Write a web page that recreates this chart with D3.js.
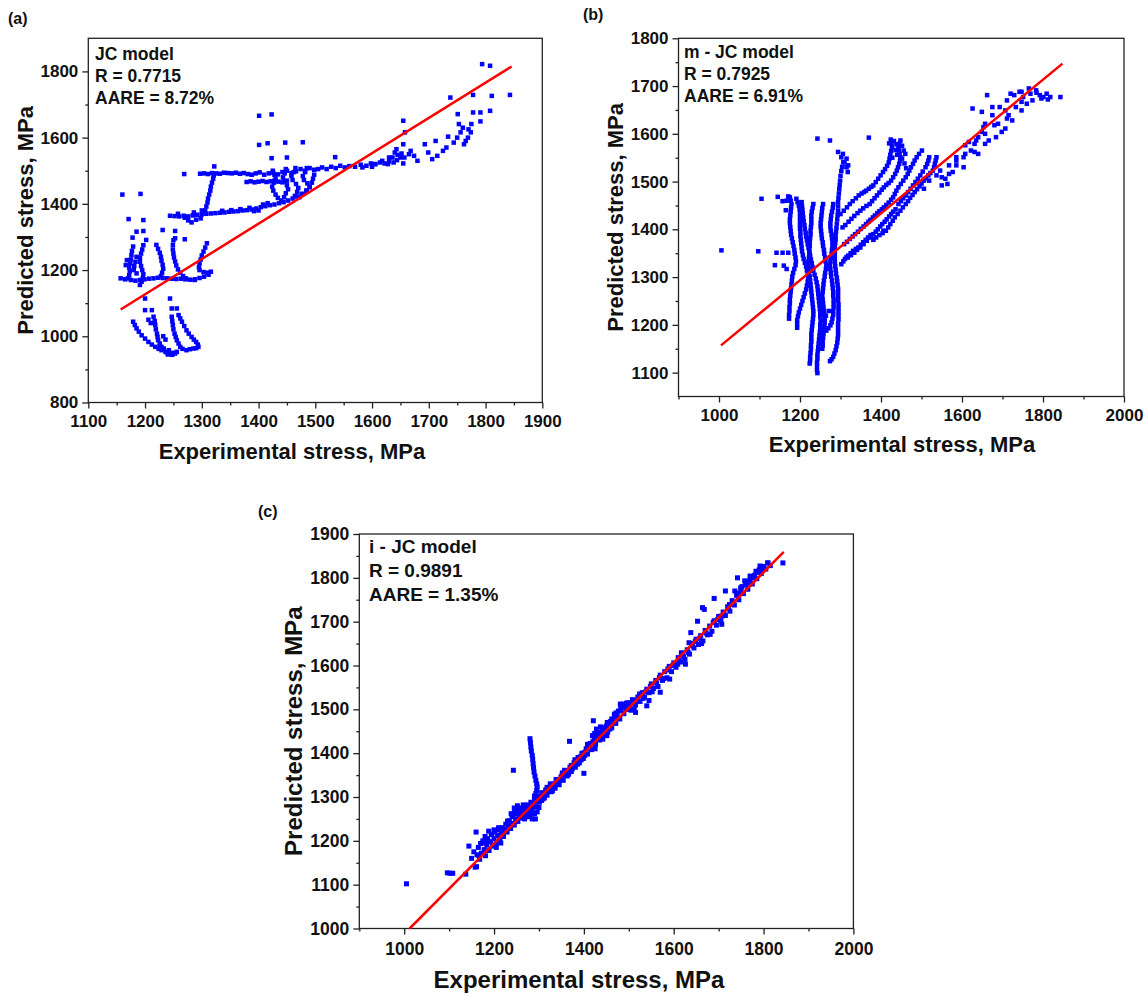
<!DOCTYPE html>
<html>
<head>
<meta charset="utf-8">
<script src="https://cdn.jsdelivr.net/npm/d3@7/dist/d3.min.js"></script>
<style>
  body { margin: 0; background: #fff; }
  svg text { font-family: Arial, "Liberation Sans", sans-serif; font-weight: bold; fill: #111; }
</style>
</head>
<body>
<svg id="chart" width="1148" height="996"></svg>
<script>

// ---------- (a) JC model ----------
var jcXTicks = [1100, 1200, 1300, 1400, 1500, 1600, 1700, 1800, 1900]
var jcXMinor = [1150, 1250, 1350, 1450, 1550, 1650, 1750, 1850]
var jcYTicks = [800, 1000, 1200, 1400, 1600, 1800]
var jcYMinor = [900, 1100, 1300, 1500, 1700]
var jcNotes = ['JC model', 'R = 0.7715', 'AARE = 8.72%']
var jcFit = [[1157, 1081], [1846, 1815]]
var jcData = [
  // isolated points
  [1401,1666],[1423,1670],[1401,1578],[1416,1583],[1447,1585],[1478,1586],[1423,1538],[1450,1540],[1535,1541],
  [1269,1490],[1322,1513],[1160,1428],[1192,1430],[1171,1354],[1197,1351],[1185,1316],[1197,1318],[1231,1321],
  [1253,1318],[1178,1298],[1202,1291],[1253,1296],[1270,1293],[1157,1175],
  // upper horizontal band
  [1297,1491],[1304,1492],[1311,1490],[1318,1493],[1325,1492],[1332,1491],[1339,1494],[1346,1493],[1353,1492],
  [1360,1494],[1367,1491],[1374,1493],[1381,1490],[1388,1488],[1395,1492],[1402,1495],[1410,1488],[1418,1492],
  [1426,1494],[1434,1489],[1442,1496],[1450,1500],[1458,1493],[1466,1498],[1474,1505],[1482,1500],[1490,1508],[1498,1503],
  [1379,1466],[1386,1468],[1393,1465],[1400,1467],[1407,1469],[1414,1466],[1421,1468],[1428,1470],[1435,1467],[1442,1465],[1450,1470],
  // curls
  [1425,1500],[1428,1488],[1430,1476],[1427,1464],[1424,1452],[1426,1440],[1430,1428],[1434,1418],[1440,1410],
  [1448,1505],[1446,1492],[1443,1480],[1445,1468],[1450,1456],[1452,1444],[1448,1432],[1445,1420],
  [1465,1508],[1462,1496],[1458,1484],[1460,1472],[1466,1460],[1470,1448],[1468,1436],[1464,1424],
  [1485,1508],[1482,1496],[1478,1484],[1480,1472],[1486,1462],[1490,1450],[1485,1440],[1478,1430],[1472,1420],
  // steep link
  [1306,1380],[1308,1392],[1310,1404],[1311,1416],[1313,1428],[1315,1440],[1316,1452],[1318,1464],[1320,1476],[1321,1486],
  // lower band
  [1244,1364],[1252,1363],[1260,1362],[1268,1364],[1276,1362],[1284,1365],[1292,1367],[1300,1368],[1308,1370],
  [1316,1371],[1324,1372],[1332,1373],[1340,1374],[1348,1376],[1356,1377],[1364,1378],[1372,1380],[1380,1381],
  [1388,1383],[1396,1386],[1404,1390],[1412,1393],[1420,1396],[1428,1398],[1436,1402],[1444,1405],[1452,1410],
  [1460,1416],[1468,1422],[1476,1430],[1484,1440],[1490,1452],[1494,1464],[1496,1476],[1498,1488],
  [1276,1350],[1282,1344],[1290,1352],[1270,1358],[1298,1356],[1258,1370],[1286,1374],[1300,1380],
  [1400,1380],[1408,1398],[1416,1402],[1392,1378],[1336,1379],[1352,1381],[1368,1384],[1384,1388],
  // right trail
  [1505,1505],[1512,1510],[1520,1505],[1528,1512],[1536,1508],[1544,1515],[1552,1510],[1560,1514],[1570,1512],
  [1580,1518],[1590,1515],[1598,1522],[1606,1520],[1614,1525],[1622,1522],[1630,1528],[1638,1525],[1644,1532],[1650,1540],
  [1583,1510],[1600,1512],[1618,1530],[1628,1520],[1636,1540],[1645,1548],[1652,1552],[1655,1522],
  [1655,1651],[1658,1616],[1655,1580],[1643,1565],[1668,1560],[1674,1545],[1680,1530],[1693,1580],[1699,1555],
  [1706,1535],[1712,1590],[1715,1545],[1725,1560],[1731,1570],[1734,1603],[1744,1585],[1750,1600],[1756,1616],
  [1753,1641],[1751,1671],[1738,1721],[1762,1580],[1769,1600],[1774,1616],[1775,1641],[1778,1676],[1778,1729],
  [1791,1676],[1791,1649],[1808,1681],[1794,1822],[1808,1817],[1811,1726],[1843,1729],[1657,1540],[1665,1550],
  [1605,1520],[1630,1540],[1640,1555],[1765,1590],[1770,1625],[1760,1630],
  // left loops
  [1179,1271],[1177,1258],[1176,1245],[1175,1232],[1174,1220],[1172,1208],[1173,1196],[1172,1184],[1170,1175],
  [1185,1240],[1183,1225],[1181,1212],[1168,1230],[1166,1215],[1180,1200],[1185,1190],
  [1197,1275],[1195,1262],[1193,1250],[1191,1237],[1191,1225],[1193,1212],[1195,1200],[1197,1188],[1196,1176],[1194,1165],[1191,1155],
  [1220,1276],[1223,1264],[1226,1252],[1228,1240],[1229,1228],[1231,1216],[1232,1204],[1230,1192],[1228,1182],
  [1250,1290],[1249,1276],[1249,1262],[1250,1250],[1251,1238],[1253,1226],[1255,1214],[1258,1202],[1262,1192],[1267,1182],[1272,1175],
  [1309,1281],[1306,1268],[1303,1256],[1300,1244],[1298,1232],[1296,1220],[1295,1208],[1296,1200],[1303,1194],
  [1310,1192],[1316,1195],[1312,1186],[1304,1180],[1296,1176],[1288,1172],
  [1165,1172],[1175,1170],[1183,1168],[1191,1170],[1199,1172],[1207,1174],[1215,1175],[1223,1177],[1231,1176],
  [1239,1175],[1247,1174],[1255,1173],[1263,1174],[1271,1172],[1279,1171],[1287,1170],
  // lower loops
  [1200,1114],[1244,1114],[1200,1079],[1212,1079],[1247,1084],[1256,1084],
  [1179,1044],[1182,1034],[1185,1024],[1189,1014],[1194,1003],[1200,993],[1206,983],[1212,975],[1218,968],
  [1224,962],[1229,958],[1236,953],[1244,948],[1250,950],[1256,953],
  [1215,1059],[1217,1046],[1218,1034],[1219,1021],[1221,1008],[1222,998],[1223,988],[1226,978],[1229,968],[1233,963],
  [1247,1059],[1248,1046],[1249,1034],[1250,1021],[1252,1008],[1254,998],[1256,988],[1259,978],[1262,968],[1266,962],
  [1259,1064],[1262,1054],[1265,1044],[1269,1031],[1273,1018],[1277,1008],[1282,998],[1286,990],[1290,983],
  [1293,975],[1294,968],[1290,964],[1285,963],[1279,961],[1273,958],
  [1238,952],[1242,958],[1226,970],[1210,1040],[1206,1050],[1232,1000],[1236,990],[1240,945],[1248,944],[1253,948]
]

// ---------- (b) m-JC model ----------
var mjcXTicks = [1000, 1200, 1400, 1600, 1800, 2000]
var mjcXMinor = [900, 1100, 1300, 1500, 1700, 1900]
var mjcYTicks = [1100, 1200, 1300, 1400, 1500, 1600, 1700, 1800]
var mjcYMinor = [1150, 1250, 1350, 1450, 1550, 1650, 1750]
var mjcNotes = ['m - JC model', 'R = 0.7925', 'AARE = 6.91%']
var mjcFit = [[1005, 1157], [1848, 1747]]
var mjcData = [
  // isolated points
  [1006,1356],[1097,1354],[1142,1351],[1157,1351],[1171,1351],[1138,1325],[1105,1464],[1145,1468],[1157,1459],
  [1171,1469],[1243,1590],[1274,1586],[1370,1592],[1294,1562],[1160,1324],[1167,1317],[1264,1219],[1271,1229],
  [1165,1440],[1167,1460],
  // steep strands
  [1175,1467],[1177,1460],[1179,1453],[1178,1445],[1177,1437],[1176,1429],[1175,1421],[1175,1413],[1176,1405],
  [1177,1397],[1178,1389],[1180,1381],[1182,1373],[1184,1365],[1186,1357],[1187,1349],[1189,1341],[1190,1333],
  [1189,1325],[1186,1317],[1183,1309],[1181,1301],[1180,1293],[1179,1285],[1178,1277],[1177,1269],[1176,1261],
  [1175,1253],[1175,1245],[1174,1237],[1174,1229],[1173,1221],[1173,1213],
  [1191,1464],[1194,1457],[1197,1450],[1199,1442],[1200,1434],[1200,1426],[1200,1418],[1200,1410],[1200,1402],
  [1201,1394],[1201,1386],[1202,1378],[1203,1370],[1204,1362],[1205,1354],[1207,1346],[1209,1338],[1212,1330],
  [1215,1322],[1217,1314],[1219,1306],[1220,1298],[1219,1290],[1217,1282],[1215,1274],[1212,1266],[1209,1258],
  [1206,1250],[1203,1242],[1200,1234],[1197,1226],[1195,1218],[1193,1210],[1193,1202],[1193,1194],
  [1204,1457],[1205,1449],[1206,1441],[1207,1433],[1208,1425],[1209,1417],[1211,1409],[1212,1401],[1214,1393],
  [1215,1385],[1217,1377],[1219,1369],[1221,1361],[1223,1353],[1225,1345],[1227,1337],[1229,1329],[1231,1321],
  [1233,1313],[1236,1305],[1239,1297],[1241,1289],[1243,1281],[1244,1273],[1245,1265],[1246,1257],[1247,1249],
  [1248,1241],[1249,1233],[1250,1225],[1250,1217],[1251,1209],[1250,1201],[1250,1193],[1249,1185],[1248,1177],
  [1247,1169],[1246,1161],[1245,1153],[1244,1145],[1243,1137],[1243,1129],[1242,1121],[1242,1113],[1242,1105],[1243,1099],
  [1233,1453],[1231,1445],[1229,1437],[1228,1429],[1228,1421],[1228,1413],[1227,1405],[1226,1397],[1226,1389],
  [1225,1381],[1224,1373],[1224,1365],[1223,1357],[1223,1349],[1222,1341],[1221,1333],[1220,1325],[1221,1317],
  [1222,1309],[1224,1301],[1225,1293],[1226,1285],[1227,1277],[1228,1269],[1229,1261],[1230,1253],[1231,1245],
  [1232,1237],[1233,1229],[1233,1221],[1232,1213],[1231,1205],[1230,1197],[1229,1189],[1228,1181],[1228,1173],
  [1228,1165],[1227,1157],[1227,1149],[1226,1141],[1225,1133],[1225,1125],[1224,1119],
  [1257,1453],[1255,1445],[1254,1437],[1253,1429],[1252,1421],[1251,1413],[1251,1405],[1252,1397],[1253,1389],
  [1254,1381],[1256,1373],[1257,1365],[1259,1357],[1260,1349],[1262,1341],[1263,1333],[1265,1325],[1264,1317],
  [1262,1309],[1261,1301],[1259,1293],[1258,1285],[1257,1277],[1256,1269],[1255,1261],[1256,1253],[1257,1245],
  [1258,1237],[1259,1229],[1260,1221],[1261,1213],[1261,1205],[1260,1197],[1259,1189],[1258,1181],[1257,1173],
  [1256,1165],[1256,1157],[1255,1150],
  [1302,1551],[1306,1558],[1310,1540],[1315,1548],[1319,1534],[1315,1530],[1318,1520],
  [1307,1541],[1304,1531],[1302,1522],[1300,1512],[1299,1502],[1298,1493],[1297,1484],[1296,1475],[1295,1466],
  [1294,1457],[1294,1448],[1294,1439],[1293,1430],[1292,1421],[1291,1412],[1290,1403],[1289,1395],[1288,1387],
  [1288,1379],[1287,1371],[1286,1363],[1286,1355],[1286,1347],[1286,1339],[1286,1331],[1287,1323],[1288,1315],
  [1289,1307],[1291,1299],[1292,1291],[1293,1283],[1294,1275],[1294,1267],[1294,1259],[1294,1251],[1295,1243],
  [1295,1235],[1295,1227],[1295,1219],[1295,1211],[1294,1203],[1294,1195],[1294,1187],[1294,1179],[1293,1171],
  [1292,1163],[1290,1155],[1288,1147],[1285,1140],[1282,1133],[1278,1128],[1274,1124],
  [1282,1453],[1281,1445],[1279,1437],[1277,1429],[1276,1421],[1275,1413],[1275,1405],[1276,1397],[1278,1389],
  [1279,1381],[1280,1373],[1280,1365],[1279,1357],[1278,1349],[1276,1341],[1275,1333],[1274,1325],[1275,1317],
  [1276,1309],[1277,1301],[1279,1293],[1280,1285],[1281,1277],[1282,1269],[1282,1261],[1283,1253],[1283,1245],
  [1283,1237],[1282,1229],[1282,1221],[1280,1213],[1278,1205],[1275,1199],[1270,1193],[1265,1188],
  // rising strands
  [1300,1432],[1308,1439],[1316,1446],[1323,1453],[1330,1459],[1338,1465],[1345,1471],[1352,1475],[1358,1478],
  [1363,1481],[1370,1485],[1376,1489],[1381,1492],[1387,1499],[1393,1506],[1399,1513],[1405,1520],[1410,1526],
  [1415,1533],[1419,1540],[1421,1548],[1423,1556],[1425,1564],[1427,1572],[1426,1580],[1424,1588],
  [1305,1404],[1312,1409],[1320,1416],[1327,1422],[1334,1428],[1342,1434],[1349,1439],[1356,1444],[1364,1449],
  [1372,1453],[1378,1459],[1384,1465],[1390,1471],[1396,1477],[1402,1483],[1407,1488],[1413,1493],[1419,1497],
  [1425,1502],[1430,1509],[1435,1516],[1439,1523],[1442,1530],[1445,1537],[1447,1544],[1448,1551],[1446,1558],
  [1444,1565],[1443,1572],[1445,1579],[1448,1586],
  [1309,1369],[1316,1374],[1323,1380],[1330,1385],[1336,1390],[1343,1395],[1350,1401],[1357,1406],[1363,1411],
  [1369,1416],[1374,1420],[1380,1425],[1385,1429],[1391,1434],[1396,1438],[1402,1442],[1407,1446],[1413,1451],
  [1419,1456],[1425,1462],[1430,1467],[1434,1474],[1438,1481],[1443,1488],[1449,1495],[1455,1502],[1461,1509],
  [1466,1516],[1470,1523],[1474,1530],[1479,1537],[1483,1544],[1488,1551],[1494,1558],[1501,1565],
  [1318,1341],[1326,1346],[1334,1351],[1341,1357],[1349,1362],[1357,1369],[1365,1376],[1373,1383],[1381,1390],
  [1387,1395],[1392,1400],[1398,1406],[1403,1411],[1409,1416],[1414,1421],[1420,1427],[1425,1432],[1430,1437],
  [1436,1442],[1443,1453],[1449,1459],[1455,1465],[1461,1471],[1467,1478],[1473,1485],[1479,1492],[1485,1499],
  [1491,1506],[1497,1513],[1503,1521],[1510,1530],[1514,1537],[1517,1544],[1519,1551],
  [1381,1378],[1388,1383],[1396,1388],[1404,1392],[1412,1397],[1418,1404],[1423,1411],[1429,1418],[1434,1425],
  [1441,1432],[1448,1439],[1454,1446],[1461,1453],[1467,1459],[1472,1466],[1478,1472],[1483,1478],[1489,1484],
  [1495,1490],[1500,1496],[1506,1502],[1511,1507],[1517,1513],[1522,1518],[1528,1523],[1531,1530],[1533,1537],
  [1535,1544],[1537,1551],
  [1302,1327],[1307,1333],[1311,1338],[1315,1342],[1319,1345],[1325,1350],[1331,1355],[1338,1359],[1344,1362],
  [1350,1368],[1356,1373],[1362,1378],[1368,1383],[1374,1388],[1381,1380],[1406,1397],
  [1420,1580],[1432,1585],[1438,1578],[1452,1575],[1456,1565],[1460,1558],[1436,1566],[1440,1556],[1452,1548],
  [1458,1538],[1462,1528],[1428,1550],
  // upper right band
  [1550,1492],[1568,1516],[1586,1534],[1604,1551],[1622,1565],[1635,1586],[1649,1604],[1657,1621],[1675,1639],
  [1693,1656],[1711,1670],[1729,1681],[1747,1688],[1765,1695],[1783,1691],[1801,1677],[1818,1677],
  [1662,1681],[1626,1653],[1649,1646],[1720,1684],[1742,1688],[1707,1649],[1711,1632],[1707,1611],[1680,1618],
  [1657,1579],[1608,1558],[1586,1544],[1577,1520],[1546,1523],[1537,1513],[1519,1502],[1506,1485],[1586,1551],
  [1568,1534],[1559,1506],[1608,1576],[1617,1583],[1631,1562],[1640,1593],[1653,1614],[1675,1656],[1751,1677],
  [1774,1670],[1792,1681],[1760,1663],[1747,1649],[1724,1628],[1698,1604],[1684,1593],[1666,1586],[1640,1558],
  [1604,1530],[1550,1509],[1564,1495],[1631,1579],[1657,1600],[1689,1621],[1715,1639],[1733,1656],[1769,1684],
  [1784,1686],[1796,1674],[1747,1667],[1843,1677],[1809,1684],[1812,1672]
]

// ---------- (c) i-JC model ----------
var ijcXTicks = [1000, 1200, 1400, 1600, 1800, 2000]
var ijcXMinor = [900, 1100, 1300, 1500, 1700, 1900]
var ijcYTicks = [1000, 1100, 1200, 1300, 1400, 1500, 1600, 1700, 1800, 1900]
var ijcYMinor = [1050, 1150, 1250, 1350, 1450, 1550, 1650, 1750, 1850]
var ijcNotes = ['i - JC model', 'R = 0.9891', 'AARE = 1.35%']
var ijcFit = [[1012, 1000], [1845, 1859]]
var ijcData = [
  // isolated points
  [1005,1102],[1096,1127],[1102,1126],[1108,1126],[1137,1124],[1243,1361],[1368,1427],[1400,1354],[1421,1474],
  // spur near 1290
  [1280,1433],[1281,1424],[1282,1414],[1283,1405],[1285,1395],[1286,1386],[1287,1376],[1288,1367],[1289,1357],
  [1291,1348],[1293,1338],[1295,1330],[1296,1323],[1295,1315],[1293,1308],[1290,1302],
  // low end scatter
  [1160,1220],[1144,1188],[1170,1194],[1166,1167],[1161,1141],[1180,1210],[1188,1222],[1195,1215],[1200,1225],
  [1210,1230],[1175,1200],[1185,1200],[1250,1270],[1260,1275],[1270,1265],[1280,1258],[1285,1250],[1290,1262],
  [1275,1280],[1262,1268],[1240,1258],[1245,1275],
  // main band
  [1150,1160],[1155,1175],[1158,1140],[1162,1168],[1165,1185],[1168,1158],[1172,1172],[1175,1195],[1178,1180],
  [1181,1166],[1184,1190],[1186,1205],[1189,1178],[1192,1198],[1194,1215],[1197,1188],[1200,1205],[1202,1220],
  [1205,1196],[1208,1212],[1210,1225],[1213,1205],[1216,1218],[1218,1230],[1221,1210],[1224,1226],[1226,1238],
  [1229,1220],[1232,1234],[1234,1246],[1237,1228],[1240,1240],[1242,1255],[1245,1236],[1248,1250],[1250,1262],
  [1253,1244],[1256,1258],[1258,1268],[1261,1252],[1264,1264],[1266,1276],[1269,1258],[1272,1270],[1274,1282],
  [1277,1262],[1280,1276],[1282,1288],[1285,1268],[1288,1282],[1290,1294],[1293,1278],[1296,1290],[1298,1302],
  [1301,1288],[1304,1300],[1306,1310],[1309,1296],[1312,1306],[1315,1316],[1318,1304],[1321,1314],[1324,1322],
  [1327,1312],[1330,1322],[1333,1330],[1336,1320],[1339,1330],[1342,1338],[1345,1328],[1348,1340],[1351,1348],
  [1354,1338],[1357,1350],[1360,1358],[1363,1348],[1366,1360],[1369,1368],[1372,1358],[1375,1370],[1378,1378],
  [1381,1368],[1384,1382],[1387,1390],[1390,1378],[1393,1392],[1396,1400],[1399,1388],[1402,1402],[1405,1410],
  [1408,1398],[1411,1414],[1414,1422],[1417,1408],[1420,1426],[1423,1434],[1426,1420],[1429,1438],[1432,1446],
  [1435,1430],[1438,1448],[1441,1455],[1444,1440],[1447,1458],[1450,1462],[1453,1448],[1456,1466],[1459,1472],
  [1462,1458],[1465,1476],[1468,1484],[1471,1468],[1474,1488],[1477,1496],[1480,1478],[1483,1498],[1486,1506],
  [1489,1490],[1492,1508],[1495,1514],[1498,1500],[1501,1512],[1505,1498],[1510,1518],[1515,1510],[1520,1528],
  [1525,1518],[1530,1538],[1535,1528],[1540,1546],[1545,1538],[1550,1558],[1555,1548],[1560,1566],[1565,1552],
  [1570,1578],[1575,1566],[1580,1586],[1585,1572],[1590,1598],[1595,1586],[1600,1606],[1605,1596],[1610,1618],
  [1615,1608],[1620,1628],[1625,1614],[1630,1636],[1635,1626],[1640,1650],[1645,1640],[1650,1660],[1655,1648],
  [1660,1668],[1665,1656],[1670,1680],[1675,1670],[1680,1690],[1685,1678],[1690,1702],[1695,1692],[1700,1712],
  [1705,1702],[1710,1722],[1715,1714],[1720,1734],[1725,1724],[1730,1748],[1735,1738],[1740,1760],[1745,1750],
  [1750,1772],[1755,1764],[1760,1784],[1765,1774],[1770,1796],[1775,1786],[1780,1806],[1785,1798],[1790,1818],
  [1795,1810],[1800,1826],[1805,1820],[1810,1834],[1815,1828],
  // scatter around band
  [1809,1834],[1843,1834],[1792,1827],[1783,1815],[1770,1804],[1742,1800],[1758,1793],[1749,1777],[1736,1770],
  [1715,1770],[1690,1753],[1724,1739],[1707,1713],[1707,1694],[1681,1671],[1664,1732],[1668,1728],[1653,1701],
  [1638,1675],[1634,1652],[1617,1629],[1626,1603],[1609,1603],[1587,1592],[1591,1569],[1570,1539],[1545,1520],
  [1540,1508],[1515,1493],[1481,1512],[1468,1489],[1451,1440],[1425,1410],[1417,1421],[1396,1398],[1391,1383],
  [1374,1364],[1357,1361],[1349,1345],[1332,1323],[1315,1311],
  [1205,1185],[1215,1195],[1222,1225],[1230,1245],[1238,1262],[1246,1268],[1252,1280],[1258,1255],[1265,1282],
  [1268,1250],[1276,1255],[1282,1270],[1287,1278],[1292,1250],[1296,1266],[1300,1276],[1306,1292],[1312,1298],
  [1318,1322],[1325,1330],[1330,1314],[1338,1340],[1344,1336],[1352,1355],[1360,1350],[1366,1352],[1372,1372],
  [1380,1385],[1386,1375],[1394,1385],[1402,1395],[1408,1420],[1413,1410],[1419,1440],[1424,1445],[1428,1455],
  [1433,1440],[1437,1460],[1442,1432],[1446,1450],[1452,1470],[1458,1455],[1462,1478],[1466,1470],[1472,1492],
  [1476,1480],[1482,1505],[1488,1512],[1494,1500],[1498,1515],[1503,1505],[1508,1522],[1512,1500],[1518,1520],
  [1524,1535],[1532,1525],[1538,1540],[1548,1552],[1552,1540],[1562,1560],[1568,1572],[1578,1570],[1588,1590],
  [1598,1600],[1612,1610],[1622,1620],[1632,1630],[1642,1645],[1648,1655],[1658,1662],[1662,1650],[1672,1674],
  [1688,1698],[1698,1705],[1712,1718],[1722,1730],[1732,1742],[1746,1765],[1752,1780],[1762,1792],[1768,1785],
  [1778,1800],[1788,1812],[1798,1820]
]

var svg = d3.select('#chart')

var panels = [
  { data: jcData, fit: jcFit, notes: jcNotes, label: '(a)',
    xTicks: jcXTicks, xMinor: jcXMinor, yTicks: jcYTicks, yMinor: jcYMinor,
    xDomain: [1100, 1900], yDomain: [800, 1900],
    left: 88.3, right: 542.3, top: 38.3, bottom: 402.5,
    labelX: 8, labelY: 24, notesX: 95, notesY: 60, notesGap: 22, notesSize: 17.5,
    xTitleX: 292, xTitleY: 459, yTitleX: 32.5, titleSize: 22, tickFont: 17, xPad: 6.5, mark: 4.5 },
  { data: mjcData, fit: mjcFit, notes: mjcNotes, label: '(b)',
    xTicks: mjcXTicks, xMinor: mjcXMinor, yTicks: mjcYTicks, yMinor: mjcYMinor,
    xDomain: [900, 2000], yDomain: [1050, 1800],
    left: 678.5, right: 1124, top: 38.3, bottom: 396.5,
    labelX: 583, labelY: 20, notesX: 684, notesY: 58, notesGap: 22, notesSize: 17.5,
    xTitleX: 902, xTitleY: 452, yTitleX: 622.5, titleSize: 22, tickFont: 17, xPad: 6.5, mark: 4.5 },
  { data: ijcData, fit: ijcFit, notes: ijcNotes, label: '(c)',
    xTicks: ijcXTicks, xMinor: ijcXMinor, yTicks: ijcYTicks, yMinor: ijcYMinor,
    xDomain: [900, 2000], yDomain: [1000, 1900],
    left: 359.3, right: 853.4, top: 534, bottom: 928.5,
    labelX: 258, labelY: 517, notesX: 369, notesY: 553, notesGap: 24, notesSize: 19,
    xTitleX: 579, xTitleY: 988, yTitleX: 302, titleSize: 24, tickFont: 17.5, xPad: 8, mark: 5 }
]

panels.forEach(drawPanel)

function styleAxis(g, size) {
  g.select('.domain').remove()
  g.selectAll('line').attr('stroke', '#222').attr('stroke-width', 1.3)
  g.attr('font-size', size).attr('font-family', 'Arial, "Liberation Sans", sans-serif')
  g.selectAll('text').style('font-weight', 'bold').attr('fill', '#111')
}

function drawPanel(p) {
  var x = d3.scaleLinear().domain(p.xDomain).range([p.left, p.right])
  var y = d3.scaleLinear().domain(p.yDomain).range([p.bottom, p.top])
  var g = svg.append('g')

  // minor ticks
  g.append('g')
    .attr('transform', 'translate(0,' + p.bottom + ')')
    .call(d3.axisBottom(x).tickValues(p.xMinor).tickSize(3).tickFormat(''))
    .call(styleAxis, p.tickFont)
  g.append('g')
    .attr('transform', 'translate(' + p.left + ',0)')
    .call(d3.axisLeft(y).tickValues(p.yMinor).tickSize(3).tickFormat(''))
    .call(styleAxis, p.tickFont)

  // major ticks
  g.append('g')
    .attr('transform', 'translate(0,' + p.bottom + ')')
    .call(d3.axisBottom(x).tickValues(p.xTicks).tickSize(6).tickPadding(p.xPad).tickFormat(d3.format('d')))
    .call(styleAxis, p.tickFont)
  g.append('g')
    .attr('transform', 'translate(' + p.left + ',0)')
    .call(d3.axisLeft(y).tickValues(p.yTicks).tickSize(6).tickPadding(4).tickFormat(d3.format('d')))
    .call(styleAxis, p.tickFont)

  // frame
  g.append('rect')
    .attr('x', p.left)
    .attr('y', p.top)
    .attr('width', p.right - p.left)
    .attr('height', p.bottom - p.top)
    .attr('fill', 'none')
    .attr('stroke', '#222')
    .attr('stroke-width', 1.3)

  // points
  g.selectAll('.pt')
    .data(p.data)
    .enter().append('rect')
    .attr('class', 'pt')
    .attr('x', function(d) { return x(d[0]) - p.mark / 2 })
    .attr('y', function(d) { return y(d[1]) - p.mark / 2 })
    .attr('width', p.mark)
    .attr('height', p.mark)
    .attr('fill', '#0000ff')

  // fit line
  g.append('line')
    .attr('x1', x(p.fit[0][0]))
    .attr('y1', y(p.fit[0][1]))
    .attr('x2', x(p.fit[1][0]))
    .attr('y2', y(p.fit[1][1]))
    .attr('stroke', '#ff0000')
    .attr('stroke-width', 2.5)

  // notes
  g.selectAll('.note')
    .data(p.notes)
    .enter().append('text')
    .attr('class', 'note')
    .attr('x', p.notesX)
    .attr('y', function(d, i) { return p.notesY + i * p.notesGap })
    .style('font-size', p.notesSize + 'px')
    .text(function(d) { return d })

  // panel label
  g.append('text')
    .attr('x', p.labelX)
    .attr('y', p.labelY)
    .style('font-size', '16px')
    .text(p.label)

  // axis titles
  g.append('text')
    .attr('x', p.xTitleX)
    .attr('y', p.xTitleY)
    .attr('text-anchor', 'middle')
    .style('font-size', p.titleSize + 'px')
    .text('Experimental stress, MPa')

  g.append('text')
    .attr('transform', 'translate(' + p.yTitleX + ',' + ((p.top + p.bottom) / 2) + ') rotate(-90)')
    .attr('text-anchor', 'middle')
    .style('font-size', p.titleSize + 'px')
    .text('Predicted stress, MPa')
}
</script>
</body>
</html>
